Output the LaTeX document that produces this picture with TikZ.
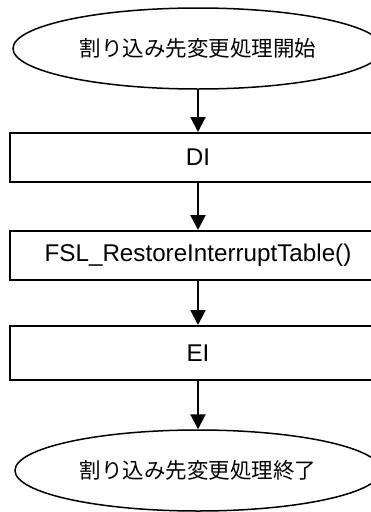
\documentclass[tikz,border=0pt]{standalone}
\usepackage{fontspec}
\setmainfont{Liberation Sans}
\newfontfamily\jpfont{Noto Sans CJK JP}
\usetikzlibrary{shapes.geometric}
\usetikzlibrary{arrows.meta}

\tikzset{
  terminal/.style={draw, line width=1.5pt, ellipse, inner sep=0pt,
    minimum width=370pt, minimum height=81pt, font=\jpfont\fontsize{21.5}{26}\selectfont},
  process/.style={draw, line width=2pt, rectangle, inner sep=0pt,
    minimum width=376pt, font=\fontsize{24.2}{29}\selectfont},
  flowarrow/.style={line width=2.2pt, -{Triangle[width=15pt,length=15pt]}}
}

\begin{document}
\begin{tikzpicture}[x=1pt,y=-1pt]
  \useasboundingbox (0,0) rectangle (371,512);
  \clip (0,0) rectangle (371,512);

  % Drawing start and end terminals
  \node [terminal] (start) at (198,48.5) {割り込み先変更処理開始};%
  \node [terminal, minimum width=366pt] (finish) at (198,470.5) {割り込み先変更処理終了};%

  % Drawing process boxes
  \node [process, minimum height=49pt] (di) at (198,157.5) {DI};%
  \node [process, minimum height=49pt] (restore) at (198,255.5) {FSL\_RestoreInterruptTable()};%
  \node [process, minimum height=54pt] (ei) at (198,353) {EI};%

  % Drawing flow arrows
  \draw [flowarrow] (start.south) -- (di.north);%
  \draw [flowarrow] (di.south) -- (restore.north);%
  \draw [flowarrow] (restore.south) -- (ei.north);%
  \draw [flowarrow] (ei.south) -- (finish.north);%
\end{tikzpicture}
\end{document}
